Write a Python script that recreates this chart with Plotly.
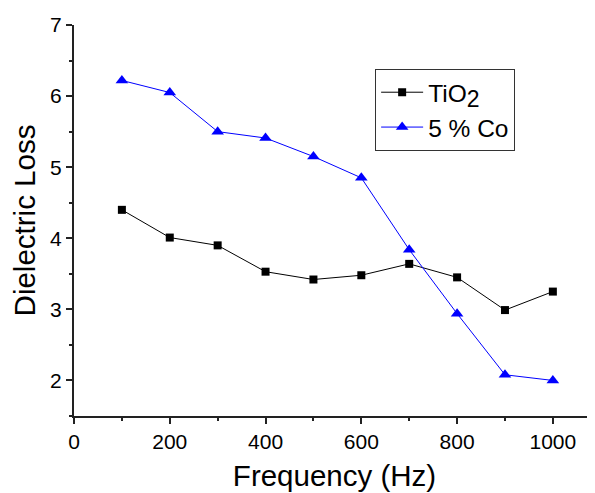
import plotly.graph_objects as go

freq = [100, 200, 300, 400, 500, 600, 700, 800, 900, 1000]
tio2 = [4.40, 4.01, 3.90, 3.53, 3.42, 3.48, 3.64, 3.45, 2.99, 3.25]
co5 = [6.22, 6.05, 5.50, 5.41, 5.15, 4.85, 3.84, 2.94, 2.08, 2.00]

fig = go.Figure()
fig.add_trace(go.Scatter(x=freq, y=tio2, mode="lines+markers",
                         name="TiO<sub><span style='font-size:23px'>2</span></sub>",
                         line=dict(color="black", width=1),
                         marker=dict(symbol="square", size=8, color="black")))
fig.add_trace(go.Scatter(x=freq, y=co5, mode="lines+markers", name="5 % Co",
                         line=dict(color="blue", width=1),
                         marker=dict(symbol="triangle-up", size=11, color="blue")))

font = "Liberation Sans, Arial, sans-serif"
# page body has an 8px margin, so the figure is 8px smaller and margins shifted
fig.update_layout(
    width=587, height=485,
    margin=dict(l=66, r=0, t=17, b=77),
    paper_bgcolor="white", plot_bgcolor="white",
    font=dict(family=font, color="black", size=21),
    showlegend=True,
    legend=dict(x=0.578, y=0.888, xanchor="left", yanchor="top",
                bordercolor="#333", borderwidth=1, bgcolor="white",
                font=dict(size=24.5), tracegroupgap=0, itemwidth=42),
    xaxis=dict(range=[0, 1088], tickvals=[0, 200, 400, 600, 800, 1000],
               showline=True, linecolor="#222", linewidth=2, ticks="outside",
               ticklen=6, tickwidth=1.5, tickcolor="#222", showgrid=False, zeroline=False,
               automargin=False,
               minor=dict(dtick=100, tick0=0, ticks="outside", ticklen=3, tickcolor="#222", tickwidth=1.5),
               title=dict(text="Frequency (Hz)", font=dict(size=29.5), standoff=13),
               tickfont=dict(size=21)),
    yaxis=dict(range=[1.5, 7], tickvals=[2, 3, 4, 5, 6, 7],
               showline=True, linecolor="#222", linewidth=2, ticks="outside",
               ticklen=6, tickwidth=1.5, tickcolor="#222", showgrid=False, zeroline=False,
               automargin=False,
               minor=dict(dtick=0.5, tick0=0, ticks="outside", ticklen=3, tickcolor="#222", tickwidth=1.5),
               title=dict(text="Dielectric Loss", font=dict(size=29.5), standoff=11),
               tickfont=dict(size=21)),
)
fig.write_html("out.html")
